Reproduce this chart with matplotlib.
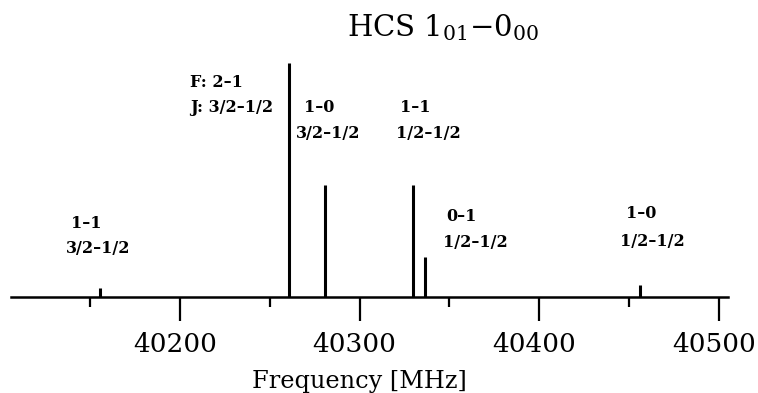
import matplotlib
matplotlib.use("Agg")
import matplotlib.pyplot as plt
from matplotlib.ticker import MultipleLocator
from matplotlib.transforms import ScaledTranslation

# data
freqs = [40155.5, 40260.8, 40280.7, 40329.6, 40336.4, 40456.0]
intensity = [0.04, 1.0, 0.48, 0.48, 0.17, 0.05]
f_labels = ["1\u20131", "F: 2\u20131", "1\u20130", "1\u20131", "0\u20131", "1\u20130"]
j_labels = ["3/2\u20131/2", "J: 3/2\u20131/2", "3/2\u20131/2", "1/2\u20131/2", "1/2\u20131/2", "1/2\u20131/2"]
major_ticks = [40200, 40300, 40400, 40500]

# label anchor positions (data coords)
f_lab_x = [40147.7, 40205.6, 40277.3, 40330.8, 40356.4, 40456.5]
f_lab_y = [0.312, 0.915, 0.808, 0.808, 0.342, 0.355]
j_lab_x = [40154.4, 40205.6, 40282.3, 40338.0, 40364.2, 40463.2]
j_lab_y = [0.209, 0.810, 0.699, 0.697, 0.231, 0.239]
lab_ha = ['center', 'left', 'center', 'center', 'center', 'center']

plt.rcParams['mathtext.fontset'] = 'dejavuserif'
fig = plt.figure(figsize=(7.58, 3.93), dpi=100)
W, H = 758, 393
ax = fig.add_axes([10.6 / W, (H - 297) / H, (727.6 - 10.6) / W, (297 - 63) / H])
ax.set_xlim(40105.7, 40504.8)
ax.set_ylim(0, 1.0)

ax.vlines(freqs, 0, intensity, colors='black', linewidth=2.2)

for s in ['left', 'right', 'top']:
    ax.spines[s].set_visible(False)
ax.spines['bottom'].set_linewidth(1.8)
ax.set_yticks([])
ax.set_xticks(major_ticks)
ax.xaxis.set_minor_locator(MultipleLocator(50))
ax.tick_params(axis='x', which='major', direction='out', length=17.3, width=1.6, pad=8,
               labelsize=19)
ax.tick_params(axis='x', which='minor', direction='out', length=7, width=1.6)
shift = ScaledTranslation(-5 / 100, 0, fig.dpi_scale_trans)
for lab in ax.get_xticklabels():
    lab.set_family('DejaVu Serif')
    lab.set_transform(lab.get_transform() + shift)

for txt, x, y, ha in zip(f_labels, f_lab_x, f_lab_y, lab_ha):
    ax.text(x, y, txt, ha=ha, va='center', fontsize=11.5, fontweight='bold',
            family='DejaVu Serif')
for txt, x, y, ha in zip(j_labels, j_lab_x, j_lab_y, lab_ha):
    ax.text(x, y, txt, ha=ha, va='center', fontsize=11.5, fontweight='bold',
            family='DejaVu Serif')

fig.text(443 / W, 1 - 36.7 / H, "HCS $1_{01}{-}0_{00}$", ha='center', va='baseline',
         fontsize=21, family='DejaVu Serif')
fig.text(359 / W, 1 - 388 / H, "Frequency [MHz]", ha='center', va='baseline',
         fontsize=17.3, family='DejaVu Serif')

fig.savefig("out.png", dpi=100)
